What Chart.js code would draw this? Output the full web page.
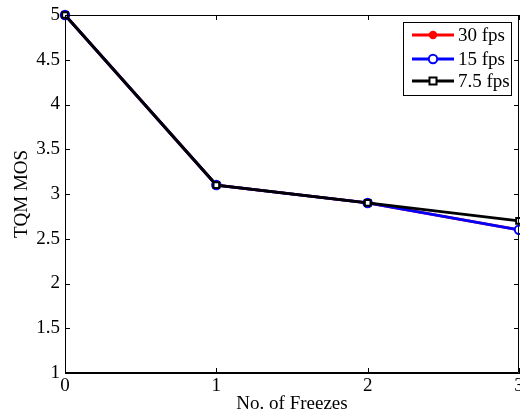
<!DOCTYPE html>
<html>
<head>
<meta charset="utf-8">
<script src="https://cdn.jsdelivr.net/npm/chart.js@4/dist/chart.umd.min.js"></script>
<style>
  html, body { margin: 0; padding: 0; background: #fff; }
  #wrap { width: 520px; height: 415px; position: relative; }
</style>
</head>
<body>
<div id="wrap"><canvas id="c" width="520" height="415"></canvas></div>
<script>
// Number of freezes on the x axis
const freezes = [0, 1, 2, 3];
// Mean opinion scores per frame rate
const mos30 = [5.0, 3.1, 2.9, 2.6];
const mos15 = [5.0, 3.1, 2.9, 2.6];
const mos75 = [5.0, 3.1, 2.9, 2.7];
const seriesNames = ['30 fps', '15 fps', '7.5 fps'];
const yTicks = [1, 1.5, 2, 2.5, 3, 3.5, 4, 4.5, 5];
const xTicks = [0, 1, 2, 3];

const FONT = '"Liberation Serif", "Times New Roman", serif';
const FSIZE = 19;

function pts(values) {
  return freezes.map((x, i) => ({ x: x, y: values[i] }));
}

const styles = [
  { color: '#ff0000', pointStyle: 'circle', radius: 3.2, fill: '#ff0000', order: 2 },
  { color: '#0000ff', pointStyle: 'circle', radius: 4.2, fill: '#ffffff', order: 1 },
  { color: '#000000', pointStyle: 'rect', radius: 4, fill: '#ffffff', order: 0 }
];
const seriesValues = [mos30, mos15, mos75];

const datasets = seriesValues.map((vals, i) => ({
  label: seriesNames[i],
  data: pts(vals),
  borderColor: styles[i].color,
  backgroundColor: styles[i].fill,
  pointBorderColor: styles[i].color,
  pointBackgroundColor: styles[i].fill,
  pointStyle: styles[i].pointStyle,
  pointRadius: styles[i].radius,
  pointBorderWidth: 2,
  borderWidth: 2.8,
  tension: 0,
  clip: false,
  order: styles[i].order
}));

// Box frame, inward tick marks, x tick labels and the line+marker legend
const framePlugin = {
  id: 'frame',
  afterDatasetsDraw(chart) {
    const { ctx, chartArea: a, scales } = chart;
    ctx.save();
    ctx.strokeStyle = '#000';
    ctx.lineWidth = 1;
    ctx.beginPath();
    ctx.rect(a.left + 0.5, a.top + 0.5, a.right - a.left - 1, a.bottom - a.top - 1);
    ctx.stroke();
    const tl = 5;
    ctx.beginPath();
    yTicks.forEach(v => {
      const y = Math.round(scales.y.getPixelForValue(v)) + 0.5;
      ctx.moveTo(a.left, y); ctx.lineTo(a.left + tl, y);
      ctx.moveTo(a.right, y); ctx.lineTo(a.right - tl, y);
    });
    xTicks.forEach(v => {
      const x = Math.round(scales.x.getPixelForValue(v)) + 0.5;
      ctx.moveTo(x, a.bottom); ctx.lineTo(x, a.bottom - tl);
      ctx.moveTo(x, a.top); ctx.lineTo(x, a.top + tl);
    });
    ctx.stroke();

    // x tick labels
    ctx.fillStyle = '#000';
    ctx.font = FSIZE + 'px ' + FONT;
    ctx.textAlign = 'center';
    ctx.textBaseline = 'middle';
    xTicks.forEach(v => {
      ctx.fillText(String(v), scales.x.getPixelForValue(v), a.bottom + 13);
    });

    // legend
    const bx = 403.5, by = 22.5, bw = 108, bh = 73;
    ctx.fillStyle = '#fff';
    ctx.fillRect(bx, by, bw, bh);
    ctx.strokeStyle = '#000';
    ctx.lineWidth = 1;
    ctx.strokeRect(bx, by, bw, bh);
    const rows = [35, 59, 81];
    ctx.textBaseline = 'middle';
    ctx.textAlign = 'left';
    chart.data.datasets.forEach((ds, i) => {
      const y = rows[i];
      ctx.strokeStyle = ds.borderColor;
      ctx.lineWidth = 2.8;
      ctx.beginPath();
      ctx.moveTo(412, y); ctx.lineTo(454, y);
      ctx.stroke();
      ctx.lineWidth = 2;
      ctx.fillStyle = ds.pointBackgroundColor;
      if (ds.pointStyle === 'rect') {
        ctx.fillRect(429.5, y - 3.5, 7, 7);
        ctx.strokeRect(429.5, y - 3.5, 7, 7);
      } else {
        ctx.beginPath();
        ctx.arc(433, y, ds.pointRadius, 0, Math.PI * 2);
        ctx.fill();
        ctx.stroke();
      }
      ctx.fillStyle = '#000';
      ctx.fillText(ds.label, 458, y + 1);
    });
    ctx.restore();
  }
};

new Chart(document.getElementById('c'), {
  type: 'line',
  data: { datasets: datasets },
  options: {
    responsive: false,
    animation: false,
    events: [],
    layout: { autoPadding: false, padding: { top: 15, right: 1, left: 0, bottom: 0 } },
    plugins: { legend: { display: false }, tooltip: { enabled: false } },
    scales: {
      x: {
        type: 'linear',
        min: 0, max: 3,
        afterBuildTicks(s) { s.ticks = xTicks.map(v => ({ value: v })); },
        afterFit(s) { s.height = 42; s.paddingLeft = 0; s.paddingRight = 0; },
        grid: { display: true, drawOnChartArea: false, drawTicks: false },
        border: { display: true, color: '#000', width: 1 },
        ticks: { display: false },
        title: { display: true, text: 'No. of Freezes', color: '#000', font: { family: FONT, size: FSIZE }, padding: { top: 0, bottom: 0 } }
      },
      y: {
        min: 1, max: 5,
        afterBuildTicks(s) { s.ticks = yTicks.map(v => ({ value: v })); },
        afterFit(s) { s.width = 65; s.paddingTop = 0; s.paddingBottom = 0; },
        grid: { display: true, drawOnChartArea: false, drawTicks: false },
        border: { display: true, color: '#000', width: 1 },
        ticks: {
          color: '#000', font: { family: FONT, size: FSIZE }, padding: 5, autoSkip: false,
          callback: v => String(v)
        },
        title: { display: true, text: 'TQM MOS', color: '#000', font: { family: FONT, size: FSIZE }, padding: { top: 11, bottom: 0 } }
      }
    }
  },
  plugins: [framePlugin]
});
</script>
</body>
</html>
